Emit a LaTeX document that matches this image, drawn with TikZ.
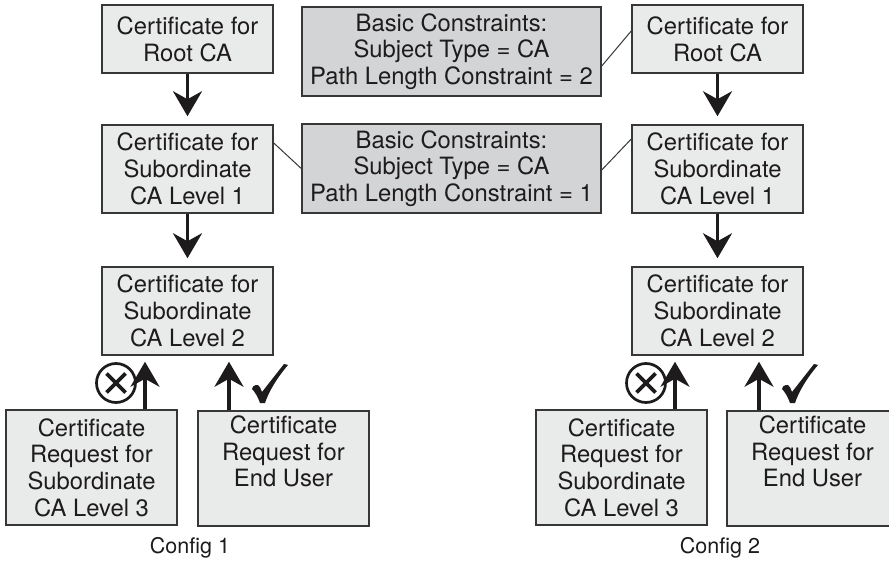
\documentclass[tikz,border=0pt]{standalone}
\usepackage{fontspec}
\setmainfont{TeX Gyre Heros}
\usetikzlibrary{arrows.meta}
\definecolor{boxfill}{RGB}{233,234,234}
\definecolor{constrfill}{RGB}{211,212,213}
\definecolor{edge}{RGB}{55,55,55}
\definecolor{ink}{RGB}{30,27,28}
\tikzset{
  okmark/.pic={
    \fill[ink] (0,25) .. controls (1,22) .. (4,21) -- (6,21)
      .. controls (8,23) .. (10,28) -- (32,0) -- (36,1)
      .. controls (25,14) and (17,27) .. (13,39) -- (8,39)
      .. controls (6,33) and (3,28) .. (0,25) -- cycle;
  }
}
\begin{document}
\begin{tikzpicture}[x=1pt,y=-1pt,
  boxtext/.style={text=ink, align=center, inner sep=0pt,
    font=\fontsize{23.8}{26.7}\selectfont},
  certbox/.style={boxtext, draw=edge, line width=1.5pt, fill=boxfill,
    minimum width=171pt},
  constrbox/.style={boxtext, draw=edge, line width=1.5pt, fill=constrfill,
    minimum width=299pt, minimum height=89pt},
  flow/.style={draw=ink, line width=3.3pt,
    -{Stealth[length=25pt,width=29pt,inset=8pt]}},
  link/.style={draw=edge, line width=1pt},
  rejectmark/.style={circle, draw=ink, line width=2.7pt, minimum size=39pt,
    inner sep=0pt,
    path picture={
      \draw[ink, line width=3.6pt]
        ([shift={(-9.5pt,-9.5pt)}]path picture bounding box.center) --
        ([shift={(9.5pt,9.5pt)}]path picture bounding box.center)
        ([shift={(-9.5pt,9.5pt)}]path picture bounding box.center) --
        ([shift={(9.5pt,-9.5pt)}]path picture bounding box.center);
    }},
  caption/.style={text=ink, inner sep=0pt, font=\fontsize{21.5}{24}\selectfont}
]
\clip (0,0) rectangle (889,561);
\fill[white] (0,0) rectangle (889,561);

% Config 1 chain
\node[certbox, minimum height=68pt] (rootL) at (187.5,39) {Certificate for\\Root CA};
\node[certbox, minimum height=88pt] (sub1L) at (187.5,169) {Certificate for\\Subordinate\\CA Level 1};
\node[certbox, minimum height=88pt] (sub2L) at (187.5,311) {Certificate for\\Subordinate\\CA Level 2};
\node[certbox, minimum height=115pt] (reqL3L) at (91.5,467.5) {Certificate\\Request for\\Subordinate\\CA Level 3};
\node[certbox, minimum height=115pt] (reqEUL) at (283.5,468.5) {Certificate\\Request for\\End User\\\strut};

% Config 2 chain
\node[certbox, minimum height=68pt] (rootR) at (717.5,39) {Certificate for\\Root CA};
\node[certbox, minimum height=88pt] (sub1R) at (717.5,169) {Certificate for\\Subordinate\\CA Level 1};
\node[certbox, minimum height=88pt] (sub2R) at (717.5,311) {Certificate for\\Subordinate\\CA Level 2};
\node[certbox, minimum height=115pt] (reqL3R) at (621.5,467.5) {Certificate\\Request for\\Subordinate\\CA Level 3};
\node[certbox, minimum height=115pt] (reqEUR) at (812.5,468.5) {Certificate\\Request for\\End User\\\strut};

% Basic constraints
\node[constrbox] (bc2) at (451.5,51.5) {Basic Constraints:\\Subject Type = CA\\Path Length Constraint = 2};
\node[constrbox] (bc1) at (451.5,168.5) {Basic Constraints:\\Subject Type = CA\\Path Length Constraint = 1};

% Callout lines
\draw[link] ([yshift=26pt]sub1L.east) -- (bc1.west);
\draw[link] ([yshift=-1.5pt]bc1.east) -- ([yshift=30pt]sub1R.west);
\draw[link] ([yshift=-14.5pt]bc2.east) -- ([yshift=8pt]rootR.west);

% Issuing arrows
\draw[flow, shorten >=8pt] (rootL.south) -- (sub1L.north);
\draw[flow, shorten >=8pt] (sub1L.south) -- (sub2L.north);
\draw[flow, shorten >=8pt] (rootR.south) -- (sub1R.north);
\draw[flow, shorten >=8pt] (sub1R.south) -- (sub2R.north);

% Requests
\draw[flow, shorten >=6pt] ([xshift=53.5pt]reqL3L.north) -- ([xshift=53.5pt]reqL3L.north |- sub2L.south);
\draw[flow, shorten >=6pt] ([xshift=-54.5pt]reqEUL.north) -- ([xshift=-54.5pt]reqEUL.north |- sub2L.south);
\draw[flow, shorten >=6pt] ([xshift=53.5pt]reqL3R.north) -- ([xshift=53.5pt]reqL3R.north |- sub2R.south);
\draw[flow, shorten >=6pt] ([xshift=-53.5pt]reqEUR.north) -- ([xshift=-53.5pt]reqEUR.north |- sub2R.south);

% Outcome marks
\node[rejectmark] (noL) at (116,383) {};
\node[rejectmark] (noR) at (646,383) {};
\pic (okL) at (252,364) {okmark};
\pic (okR) at (782,364) {okmark};

% Captions
\node[caption] (capL) at (190,548) {Config 1};
\node[caption] (capR) at (720,548) {Config 2};
\end{tikzpicture}
\end{document}
